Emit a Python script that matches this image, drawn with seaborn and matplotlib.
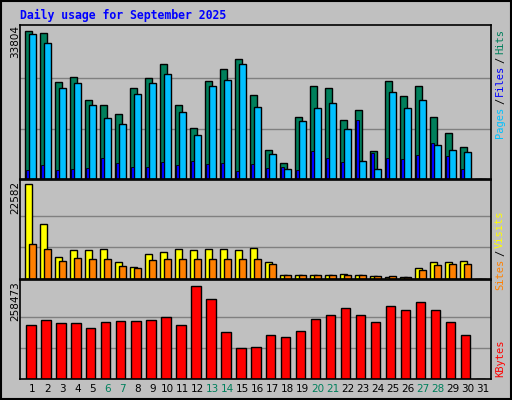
import numpy as np
import pandas as pd
import matplotlib
matplotlib.use("Agg")
import matplotlib.pyplot as plt
import seaborn as sns

# ---- data ----
days = list(range(1, 32))
hits = [33130, 32680, 21630, 22760, 17580, 16680, 14650, 20280, 22540, 25690,
        16680, 11490, 21860, 24560, 26820, 18700, 6540, 3610, 13970, 20730,
        20280, 13300, 15550, 6310, 21860, 18480, 20730, 13970, 10370, 7210, 0]
files = [32452, 30424, 20282, 21409, 16677, 13747, 12395, 18930, 21409, 23437,
         15099, 9916, 20733, 22085, 25691, 16226, 5634, 2254, 13071, 16001,
         17127, 11268, 4056, 2254, 19381, 16001, 17578, 7662, 6535, 6085, 0]
pages = [2028, 3155, 2028, 2254, 2479, 4733, 3606, 2704, 2704, 3831,
         3155, 4056, 3380, 3606, 1803, 3380, 2479, 2704, 2028, 6310,
         4733, 3831, 13296, 5859, 4733, 4507, 5409, 8113, 5183, 2254, 0]
visits = [22582, 13070, 5315, 6911, 6911, 7140, 3946, 2806, 5999, 6455,
          7140, 6911, 7140, 7140, 6911, 7368, 3946, 981, 981, 981,
          981, 1300, 981, 753, 525, 525, 2578, 3946, 3946, 4174, 0]
sites = [8280, 7140, 4174, 5087, 4630, 4859, 3034, 2578, 4402, 4859,
         4630, 4859, 4859, 4859, 4630, 4859, 3490, 981, 981, 981,
         981, 981, 981, 753, 753, 525, 2121, 3262, 3490, 3490, 0]
kbytes = [151100, 164290, 156370, 156370, 143190, 159010, 161650, 161650, 164290, 172200,
          151100, 258473, 222300, 130000, 87810, 90450, 122090, 116820, 135280, 166920,
          180110, 198570, 180110, 159010, 203840, 193290, 214390, 193290, 159010, 122090, 0]
weekend = [6, 7, 13, 14, 20, 21, 27, 28]
top_max, mid_max, bot_max = 33804, 22582, 258473

df = pd.DataFrame({"day": days, "hits": hits, "files": files, "pages": pages,
                   "visits": visits, "sites": sites, "kbytes": kbytes})

BG = "#C0C0C0"
W, H = 512, 400
fig = plt.figure(figsize=(5.12, 4.0), dpi=100, facecolor=BG)
mono = "DejaVu Sans Mono"


def px_axes(x0, y0, x1, y1):
    return fig.add_axes([x0 / W, 1 - y1 / H, (x1 - x0) / W, (y1 - y0) / H])


def bars(ax, col, offset, width, color, lw=1.0):
    sns.barplot(x=df["day"] + offset, y=df[col], native_scale=True, width=width,
                color=color, edgecolor="black", linewidth=lw, saturation=1,
                errorbar=None, ax=ax)


def style(ax, ymax, grid_max):
    ax.set_facecolor(BG)
    ax.set_xlim(0.3, 31.7)
    ax.set_ylim(0, ymax)
    for f in (1 / 3, 2 / 3):
        ax.axhline(grid_max * f, color="#808080", lw=1, zorder=0)
    ax.set_xticks([])
    ax.set_yticks([])
    ax.set_xlabel("")
    ax.set_ylabel("")
    for s in ax.spines.values():
        s.set_color("black")
        s.set_linewidth(1.2)


# top panel: hits / files / pages
ax1 = px_axes(20, 25, 491, 179)
bars(ax1, "hits", -2 / 15, 7 / 15, "#00805C")
bars(ax1, "files", 2 / 15, 7 / 15, "#00C0FF")
bars(ax1, "pages", -2.7 / 15, 3 / 15, "#0000FF", lw=0.6)
style(ax1, top_max * 1.02, top_max)

# middle panel: visits / sites
ax2 = px_axes(20, 180, 491, 279)
bars(ax2, "visits", -2 / 15, 7 / 15, "#FFFF00")
bars(ax2, "sites", 2 / 15, 7 / 15, "#FF8000")
style(ax2, mid_max * 1.04, mid_max)

# bottom panel: kbytes
ax3 = px_axes(20, 280, 491, 379)
bars(ax3, "kbytes", 0, 10 / 15, "#FF0000")
style(ax3, bot_max * 1.07, bot_max)

# day labels
for d in days:
    xpx = 20 + (d + 2 / 15 - 0.3) * 15
    fig.text(xpx / W, 1 - 389 / H, str(d), ha="center", va="center",
             fontsize=7.5, family="DejaVu Sans",
             color="#00805C" if d in weekend else "black")

# title
fig.text(20 / W, 1 - 15 / H, "Daily usage for September 2025", ha="left", va="center",
         fontsize=8.3, family=mono, weight="bold", color="#0000FF")

# max labels on the left
for ytop, label in [(25, "33804"), (181, "22582"), (281, "258473")]:
    fig.text(15 / W, 1 - ytop / H, label, rotation=90, ha="center", va="top",
             fontsize=7.5, family="DejaVu Sans", color="black")


# right side legend words, read bottom to top
def vlabel(parts, ybottom):
    y = ybottom
    for txt, col in parts:
        fig.text(500 / W, 1 - y / H, txt, rotation=90, ha="center", va="bottom",
                 fontsize=7.5, family=mono, color=col)
        y -= len(txt) * 6.3 + 2


vlabel([("Pages", "#00C0FF"), ("/", "black"), ("Files", "#0000FF"), ("/", "black"),
        ("Hits", "#00805C")], 138)
vlabel([("Sites", "#FF8000"), ("/", "black"), ("Visits", "#FFFF00")], 290)
vlabel([("KBytes", "#FF0000")], 377)

# outer frame
fig.patches.append(plt.Rectangle((0.002, 0.002), 0.996, 0.996, transform=fig.transFigure,
                                 fill=False, edgecolor="black", lw=1.5))

fig.savefig("out.png", dpi=100, facecolor=BG)
